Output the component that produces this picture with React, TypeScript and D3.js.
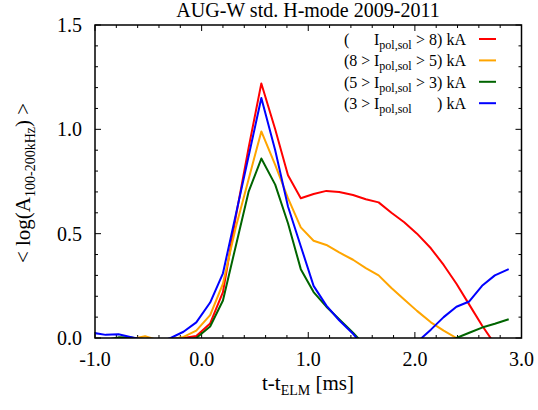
import React from "react";
import * as d3 from "d3";

const tValues = [-1.02, -0.90, -0.78, -0.66, -0.53, -0.41, -0.29, -0.17, -0.05, 0.08, 0.20, 0.32, 0.44, 0.56, 0.69, 0.81, 0.93, 1.05, 1.17, 1.29, 1.42, 1.54, 1.66, 1.78, 1.90, 2.02, 2.15, 2.27, 2.39, 2.51, 2.63, 2.75, 2.88];

const redValues = [-0.06, -0.05, -0.04, -0.04, -0.03, -0.03, -0.02, 0.0, 0.01, 0.07, 0.22, 0.58, 0.91, 1.22, 1.0, 0.78, 0.67, 0.69, 0.705, 0.70, 0.685, 0.665, 0.65, 0.60, 0.555, 0.50, 0.43, 0.35, 0.26, 0.16, 0.06, -0.03, -0.12];
const orangeValues = [-0.04, -0.03, -0.02, -0.005, 0.008, -0.01, -0.005, 0.005, 0.035, 0.11, 0.26, 0.53, 0.76, 0.99, 0.83, 0.67, 0.53, 0.466, 0.446, 0.41, 0.375, 0.335, 0.30, 0.24, 0.185, 0.13, 0.075, 0.035, 0.0, -0.03, -0.05, -0.06, -0.07];
const greenValues = [-0.03, -0.01, 0.003, 0.002, -0.01, -0.02, -0.02, -0.01, 0.0, 0.055, 0.18, 0.44, 0.70, 0.86, 0.735, 0.55, 0.33, 0.22, 0.15, 0.09, 0.025, -0.04, -0.08, -0.1, -0.1, -0.1, -0.08, -0.04, 0.0, 0.025, 0.05, 0.068, 0.09];
const blueValues = [0.025, 0.015, 0.018, 0.004, -0.01, -0.02, 0.0, 0.03, 0.075, 0.17, 0.31, 0.59, 0.87, 1.15, 0.90, 0.63, 0.44, 0.25, 0.155, 0.085, 0.02, -0.05, -0.1, -0.1, -0.08, -0.02, 0.04, 0.10, 0.15, 0.175, 0.25, 0.30, 0.33];

const seriesColors = ["#ff0000", "#ffa500", "#006400", "#0000ff"];
const seriesValues = [redValues, orangeValues, greenValues, blueValues];
const legendLeft = ["(", "(8 >", "(5 >", "(3 >"];
const legendRight = ["> 8) kA", "> 5) kA", "> 3) kA", ") kA"];

const xTickValues = [-1, 0, 1, 2, 3];
const xTickLabels = ["-1.0", "0.0", "1.0", "2.0", "3.0"];
const yTickValues = [0, 0.5, 1.0, 1.5];
const yTickLabels = ["0.0", "0.5", "1.0", "1.5"];

const FONT = "'Liberation Serif', 'Times New Roman', serif";

export default function App() {
  const W = 538, H = 410;
  const left = 95, right = 521.5, top = 25, bottom = 338;
  const x = d3.scaleLinear().domain([-1, 3]).range([left, right]);
  const y = d3.scaleLinear().domain([0, 1.5]).range([bottom, top]);
  const line = d3.line<number>().x((_, i) => x(tValues[i])).y((v) => y(v));

  const xMinor = d3.range(-1, 3.0001, 0.2);
  const yMinor = d3.range(0, 1.5001, 0.1);
  const isMajor = (v: number, arr: number[]) => arr.some((a) => Math.abs(a - v) < 1e-6);

  return (
    <svg width={W} height={H} style={{ position: "absolute", left: 0, top: 0, background: "#fff" }} fontFamily={FONT}>
      <defs>
        <clipPath id="plotclip">
          <rect x={left} y={top} width={right - left} height={bottom - top} />
        </clipPath>
      </defs>
      <rect x={0} y={0} width={W} height={H} fill="#fff" />

      {/* ticks */}
      {xMinor.map((v, i) => {
        const len = isMajor(v, xTickValues) ? 6 : 3;
        return (
          <g key={"xt" + i} stroke="#000" strokeWidth={1}>
            <line x1={x(v)} x2={x(v)} y1={bottom} y2={bottom - len} />
            <line x1={x(v)} x2={x(v)} y1={top} y2={top + len} />
          </g>
        );
      })}
      {yMinor.map((v, i) => {
        const len = isMajor(v, yTickValues) ? 6 : 3;
        return (
          <g key={"yt" + i} stroke="#000" strokeWidth={1}>
            <line x1={left} x2={left + len} y1={y(v)} y2={y(v)} />
            <line x1={right} x2={right - len} y1={y(v)} y2={y(v)} />
          </g>
        );
      })}

      {/* series */}
      <g clipPath="url(#plotclip)" fill="none" strokeWidth={2} strokeLinejoin="round">
        {seriesValues.map((vals, k) => (
          <path key={k} d={line(vals) || ""} stroke={seriesColors[k]} />
        ))}
      </g>

      {/* frame */}
      <rect x={left} y={top} width={right - left} height={bottom - top} fill="none" stroke="#000" strokeWidth={1.5} />

      {/* tick labels */}
      {xTickValues.map((v, i) => (
        <text key={"xl" + i} x={x(v)} y={366} textAnchor="middle" fontSize={20}>{xTickLabels[i]}</text>
      ))}
      {yTickValues.map((v, i) => (
        <text key={"yl" + i} x={82} y={y(v) + 7} textAnchor="end" fontSize={20}>{yTickLabels[i]}</text>
      ))}

      {/* title */}
      <text x={308} y={17} textAnchor="middle" fontSize={20}>AUG-W std. H-mode 2009-2011</text>

      {/* x label */}
      <text x={308} y={390} textAnchor="middle" fontSize={21}>
        t-t<tspan fontSize={14} dy={5}>ELM</tspan><tspan dy={-5}> [ms]</tspan>
      </text>

      {/* y label */}
      <text transform={`translate(30,${183}) rotate(-90)`} textAnchor="middle" fontSize={21}>
        {"< log(A"}<tspan fontSize={14} dy={5}>100-200kHz</tspan><tspan dy={-5}>{") >"}</tspan>
      </text>

      {/* legend */}
      {seriesColors.map((c, k) => {
        const ly = 39 + k * 21.4;
        return (
          <g key={"lg" + k} fontSize={16}>
            <text x={344} y={ly + 6} textAnchor="start">{legendLeft[k]}</text>
            <text x={374} y={ly + 6} textAnchor="start">
              I<tspan fontSize={12} dy={4}>pol,sol</tspan>
            </text>
            <text x={466} y={ly + 6} textAnchor="end">{legendRight[k]}</text>
            <line x1={479} x2={496} y1={ly} y2={ly} stroke={c} strokeWidth={2} />
          </g>
        );
      })}
    </svg>
  );
}
